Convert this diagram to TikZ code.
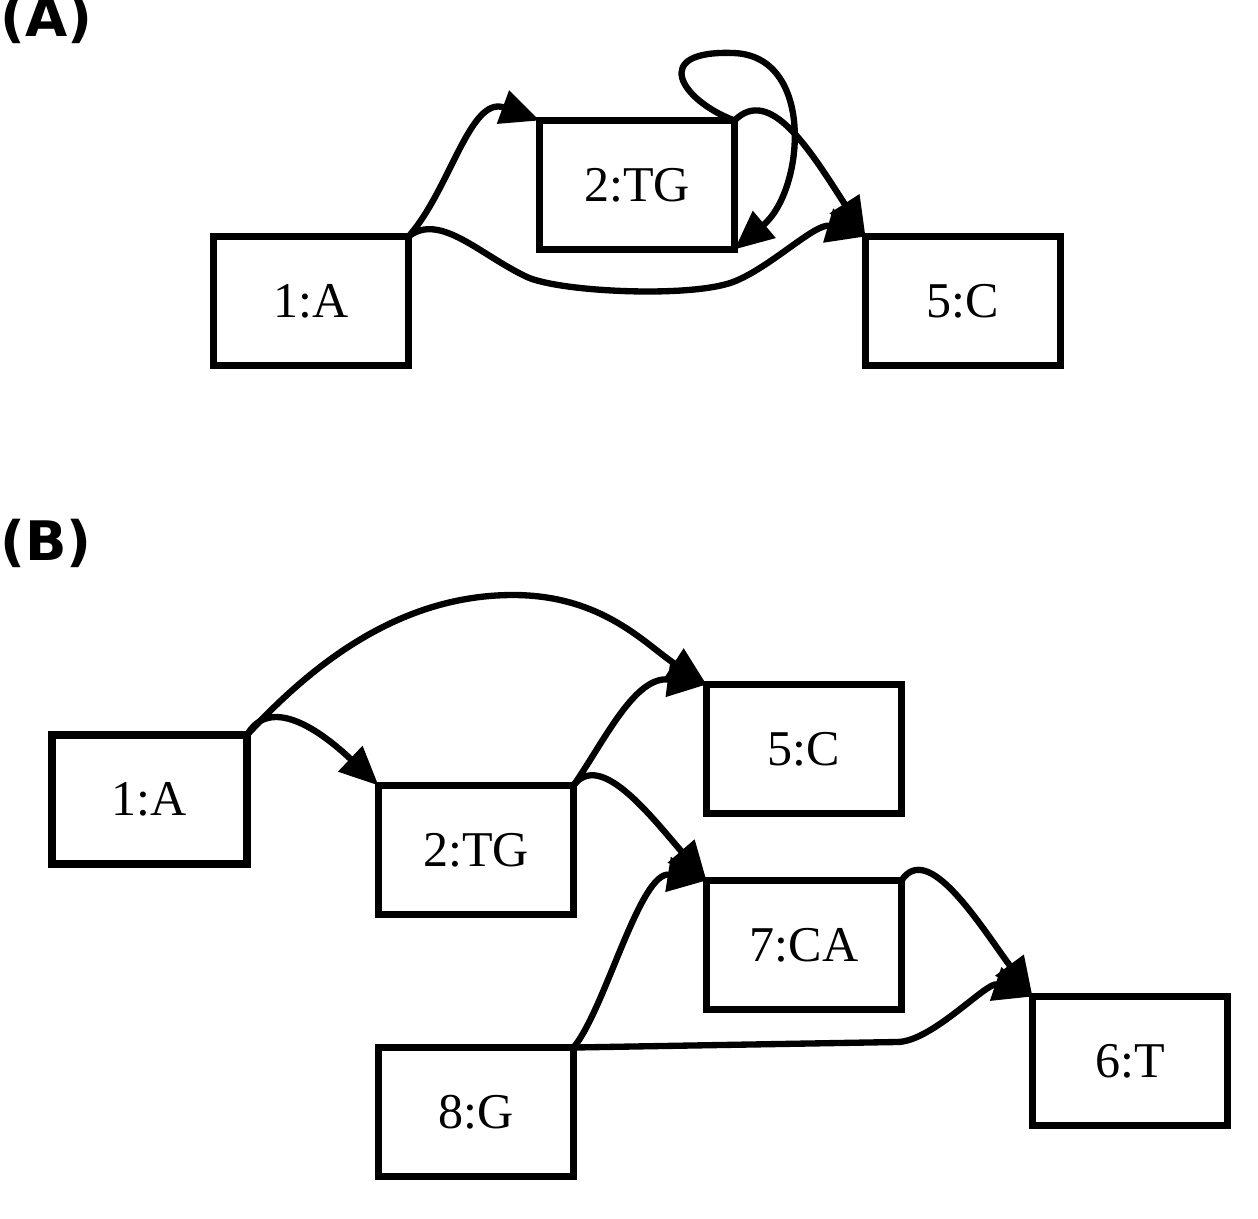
\documentclass[tikz,border=0pt]{standalone}
\usepackage{fontspec}
\setmainfont{Liberation Serif}
\newfontfamily\panelfont{DejaVu Sans}
\usetikzlibrary{arrows.meta}
\tikzstyle{block} = [rectangle, minimum width=3.9cm, minimum height=2.58cm, inner sep=0pt, outer sep=0pt, text centered, draw=black, line width=4.2pt, font=\fontsize{28.5}{34}\selectfont]
\tikzstyle{panel} = [anchor=base west, inner sep=0pt, font=\panelfont\bfseries\fontsize{31}{37}\selectfont]
\tikzstyle{arrow} = [line width=3.6pt, -{Triangle[length=0.78cm, width=0.68cm]}]
\begin{document}
\begin{tikzpicture}[x=0.02cm, y=-0.02cm]
    \useasboundingbox (0,0) rectangle (1258,1218);
    % panel (A)
    \node (capa) [panel] at (0,36) {(A)};
    \node (a1) [block] at (311,301) {1:A};
    \node (a2) [block] at (637,185) {2:TG};
    \node (a5) [block] at (963,301) {5:C};
    \draw [arrow] (a1.north east) .. controls (450,190) and (470,95) .. (a2.north west);
    \draw [arrow] (a1.north east) .. controls (440,212) and (480,255) .. (527,277)
        .. controls (560,292) and (690,298) .. (733,282)
        .. controls (770,268) and (816,222) .. (a5.north west);
    \draw [arrow] (a2.north east) .. controls (770,85) and (810,150) .. (a5.north west);
    \draw [arrow] (a2.north east) .. controls (680,100) and (650,50) .. (733,53)
        .. controls (815,55) and (805,190) .. (a2.south east);
    % panel (B)
    \node (capb) [panel] at (0,560) {(B)};
    \node (b1) [block] at (149.5,799.5) {1:A};
    \node (b2) [block] at (476,850) {2:TG};
    \node (b5) [block] at (804,749) {5:C};
    \node (b7) [block] at (804,945) {7:CA};
    \node (b8) [block] at (476,1112) {8:G};
    \node (b6) [block] at (1130,1061) {6:T};
    \draw [arrow] (b1.north east) .. controls (316,660) and (403,595) .. (513,595)
        .. controls (603,595) and (646,645) .. (b5.north west);
    \draw [arrow] (b1.north east) .. controls (270,695) and (320,730) .. (b2.north west);
    \draw [arrow] (b2.north east) .. controls (605,740) and (635,675) .. (b5.north west);
    \draw [arrow] (b2.north east) .. controls (600,750) and (650,815) .. (b7.north west);
    \draw [arrow] (b8.north east) .. controls (605,1010) and (640,870) .. (b7.north west);
    \draw [arrow] (b8.north east) -- (897,1042) .. controls (932,1042) and (987,981) .. (b6.north west);
    \draw [arrow] (b7.north east) .. controls (928,840) and (980,925) .. (b6.north west);
\end{tikzpicture}
\end{document}
